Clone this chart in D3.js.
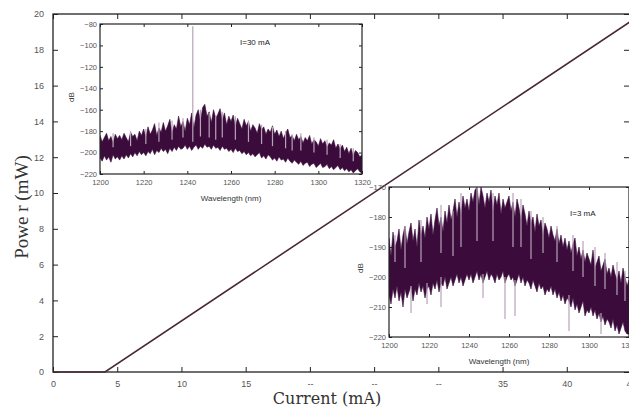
<!DOCTYPE html>
<html>
<head>
<meta charset="utf-8">
<script src="https://cdn.jsdelivr.net/npm/d3@7"></script>
<style>
  body { margin: 0; background: #fff; }
  svg { display: block; font-family: Arial, "Liberation Sans", sans-serif; }
</style>
</head>
<body>
<div id="chart"></div>
<script>
// main L-I curve
const current = [0, 4.05, 44.9]
const power = [0, 0, 19.55]
const xTickVals = [0, 5, 10, 15, 20, 25, 30, 35, 40, 45]
const xTickText = ["0", "5", "10", "15", "--", "--", "--", "35", "40", "45"]
const yTickVals = [0, 2, 4, 6, 8, 10, 12, 14, 16, 18, 20]

// spectrum insets, one sample per nm from 1200 to 1320
const wl0 = 1200
const hi30 = [
  -184,-190,-186,-182,-189,-185,-191,-183,-187,-184,
  -188,-182,-186,-190,-181,-185,-183,-189,-180,-184,
  -178,-186,-176,-183,-179,-173,-184,-177,-181,-172,
  -180,-175,-169,-182,-174,-178,-166,-176,-171,-180,
  -168,-174,-163,-177,-165,-160,-171,-158,-155,-166,
  -162,-172,-160,-168,-164,-159,-170,-163,-174,-166,
  -171,-165,-176,-168,-173,-178,-169,-175,-171,-180,
  -174,-177,-182,-173,-179,-176,-183,-178,-181,-175,
  -183,-179,-185,-180,-187,-182,-178,-186,-184,-189,
  -183,-188,-185,-191,-186,-189,-184,-192,-188,-190,
  -194,-187,-192,-189,-195,-191,-193,-188,-196,-192,
  -197,-193,-199,-195,-201,-196,-203,-198,-200,-204,
  -202]
const lo30 = [
  -205,-208,-203,-207,-204,-209,-202,-206,-204,-207,
  -203,-206,-202,-205,-201,-204,-200,-203,-199,-202,
  -200,-203,-199,-201,-197,-202,-198,-200,-196,-199,
  -197,-201,-196,-199,-195,-198,-194,-197,-196,-193,
  -197,-194,-198,-195,-193,-197,-194,-196,-192,-195,
  -194,-197,-193,-196,-195,-198,-194,-197,-196,-199,
  -197,-200,-196,-199,-198,-201,-199,-202,-200,-203,
  -201,-204,-202,-200,-205,-203,-206,-202,-204,-207,
  -205,-208,-204,-207,-206,-209,-205,-208,-210,-207,
  -209,-211,-208,-212,-210,-209,-213,-211,-210,-214,
  -212,-210,-214,-213,-211,-215,-213,-216,-214,-212,
  -216,-214,-217,-215,-218,-216,-219,-217,-215,-218,
  -219]
// grey spikes: [wavelength, from, to]
const spikes30 = [
  [1242.5, -190, -82], [1206, -195, -182], [1214, -194, -180], [1227, -190, -172],
  [1233, -188, -170], [1238, -186, -168], [1246, -185, -160], [1250, -186, -163],
  [1256, -186, -162], [1262, -188, -166], [1268, -190, -170], [1274, -192, -174],
  [1279, -194, -176], [1285, -196, -180], [1292, -198, -182], [1298, -200, -186],
  [1304, -202, -188], [1310, -205, -192], [1316, -208, -196], [1221, -192, -178],
  [1253, -188, -166], [1288, -198, -183]
]

const hi3 = [
  -187,-193,-185,-190,-188,-184,-191,-186,-183,-189,
  -185,-182,-188,-184,-190,-181,-186,-183,-187,-180,
  -184,-179,-186,-181,-177,-183,-180,-185,-178,-182,
  -176,-181,-178,-174,-180,-175,-179,-173,-177,-174,
  -178,-172,-175,-171,-170,-176,-170,-173,-177,-172,
  -175,-171,-178,-173,-176,-172,-179,-174,-177,-175,
  -173,-178,-175,-180,-174,-177,-181,-176,-179,-183,
  -178,-182,-180,-185,-179,-183,-181,-186,-182,-184,
  -187,-183,-186,-188,-184,-189,-186,-190,-187,-191,
  -188,-192,-189,-187,-193,-190,-194,-191,-195,-192,
  -194,-196,-191,-197,-195,-193,-198,-196,-194,-199,
  -197,-200,-196,-199,-201,-198,-202,-197,-200,-203,
  -201]
const lo3 = [
  -206,-209,-204,-207,-203,-208,-205,-210,-204,-207,
  -205,-203,-208,-204,-206,-202,-205,-203,-207,-204,
  -203,-206,-202,-204,-201,-205,-202,-203,-200,-204,
  -202,-200,-203,-201,-199,-202,-200,-203,-201,-199,
  -201,-199,-202,-200,-198,-201,-199,-202,-200,-198,
  -201,-199,-200,-202,-199,-201,-200,-198,-202,-200,
  -199,-201,-200,-203,-201,-199,-202,-200,-203,-201,
  -202,-204,-201,-203,-205,-202,-204,-203,-206,-204,
  -205,-203,-206,-204,-207,-205,-208,-206,-209,-207,
  -208,-210,-207,-211,-209,-212,-210,-208,-213,-211,
  -212,-210,-213,-211,-214,-212,-215,-213,-216,-214,
  -215,-217,-214,-218,-216,-219,-217,-215,-218,-219,
  -219]
const spikes3 = [
  [1203, -195, -186], [1208, -197, -183], [1216, -195, -181], [1226, -192, -176],
  [1236, -190, -172], [1244, -188, -170], [1252, -188, -172], [1262, -190, -172],
  [1266, -190, -174], [1277, -192, -180], [1284, -195, -183], [1292, -198, -186],
  [1297, -200, -188], [1303, -203, -190], [1308, -204, -192], [1314, -206, -195],
  [1258, -200, -214], [1263, -201, -213], [1290, -206, -218], [1226, -200, -210],
  [1211, -203, -212], [1306, -212, -219], [1219, -202, -209], [1247, -199, -207],
  [1232, -193, -178], [1271, -194, -178], [1318, -208, -198]
]
const wlTicks = [1200, 1220, 1240, 1260, 1280, 1300, 1320]
const dbTicks30 = [-80, -100, -120, -140, -160, -180, -200, -220]
const dbTicks3 = [-170, -180, -190, -200, -210, -220]

const width = 629
const height = 408
const tickCol = "#555"

const svg = d3.select("#chart").append("svg")
    .attr("width", width)
    .attr("height", height)

// main plot
const x = d3.scaleLinear().domain([0, 45]).range([53, 631])
const y = d3.scaleLinear().domain([0, 20]).range([372, 14])

function styleAxis(g, fs) {
    g.select(".domain").remove()
    g.selectAll(".tick line").attr("stroke", "#222")
    g.selectAll(".tick text").attr("fill", tickCol).style("font-size", fs + "px")
}

svg.append("g")
    .attr("transform", "translate(0,372)")
    .call(d3.axisBottom(x).tickValues(xTickVals).tickFormat((d, i) => xTickText[i]).tickSizeInner(-5).tickPadding(9))
    .call(g => styleAxis(g, 9))
svg.append("g")
    .attr("transform", "translate(0,14)")
    .call(d3.axisTop(x).tickValues(xTickVals).tickFormat("").tickSizeInner(-5))
    .call(g => styleAxis(g, 9))
svg.append("g")
    .attr("transform", "translate(53,0)")
    .call(d3.axisLeft(y).tickValues(yTickVals).tickSizeInner(-5).tickPadding(9))
    .call(g => styleAxis(g, 9))
svg.append("g")
    .attr("transform", "translate(629,0)")
    .call(d3.axisRight(y).tickValues(yTickVals).tickFormat("").tickSizeInner(-5))
    .call(g => styleAxis(g, 9))

svg.append("rect")
    .attr("x", 53).attr("y", 14)
    .attr("width", 631 - 53).attr("height", 372 - 14)
    .attr("fill", "none").attr("stroke", "#222").attr("stroke-width", 1.3)

svg.append("path")
    .datum(d3.zip(current, power))
    .attr("fill", "none")
    .attr("stroke", "#4a2838")
    .attr("stroke-width", 1.6)
    .attr("d", d3.line().x(d => x(d[0])).y(d => y(d[1])))

svg.append("text")
    .attr("x", 327).attr("y", 404)
    .attr("text-anchor", "middle")
    .style("font-family", "'DejaVu Serif', 'Liberation Serif', serif")
    .style("font-size", "16px")
    .attr("fill", "#333")
    .text("Current (mA)")

svg.append("text")
    .attr("transform", "translate(28,207) rotate(-90)")
    .attr("text-anchor", "middle")
    .style("font-family", "'Liberation Serif', serif")
    .style("font-size", "19px")
    .attr("fill", "#333")
    .text("Powe r (mW)")

// spectrum inset
function inset(opts) {
    const ix = d3.scaleLinear().domain([1200, 1320]).range([opts.x0, opts.x1])
    const iy = d3.scaleLinear().domain(opts.ydom).range([opts.y1, opts.y0])
    const g = svg.append("g")

    g.append("rect")
        .attr("x", opts.x0).attr("y", opts.y0)
        .attr("width", opts.x1 - opts.x0).attr("height", opts.y1 - opts.y0)
        .attr("fill", "#fff")

    const clipId = "clip" + opts.id
    g.append("clipPath").attr("id", clipId)
        .append("rect")
        .attr("x", opts.x0).attr("y", opts.y0)
        .attr("width", opts.x1 - opts.x0).attr("height", opts.y1 - opts.y0)

    const plot = g.append("g").attr("clip-path", "url(#" + clipId + ")")

    const pts = opts.hi.map((h, i) => ({ wl: wl0 + i, hi: h, lo: opts.lo[i] }))

    plot.append("path")
        .datum(pts)
        .attr("fill", "#3b0c3b")
        .attr("stroke", "#3b0c3b")
        .attr("stroke-width", 0.6)
        .attr("d", d3.area().x(d => ix(d.wl)).y0(d => iy(d.lo)).y1(d => iy(d.hi)))

    plot.selectAll(".spk")
        .data(opts.spikes)
        .join("line")
        .attr("x1", d => ix(d[0])).attr("x2", d => ix(d[0]))
        .attr("y1", d => iy(d[1])).attr("y2", d => iy(d[2]))
        .attr("stroke", "#b7a3b7")
        .attr("stroke-width", 1.2)

    const fs = 7.5
    g.append("g")
        .attr("transform", "translate(0," + opts.y1 + ")")
        .call(d3.axisBottom(ix).tickValues(wlTicks).tickFormat(d3.format("d")).tickSizeInner(-3).tickPadding(6))
        .call(a => styleAxis(a, fs))
    g.append("g")
        .attr("transform", "translate(0," + opts.y0 + ")")
        .call(d3.axisTop(ix).tickValues(wlTicks).tickFormat("").tickSizeInner(-3))
        .call(a => styleAxis(a, fs))
    g.append("g")
        .attr("transform", "translate(" + opts.x0 + ",0)")
        .call(d3.axisLeft(iy).tickValues(opts.yticks).tickSizeInner(-3).tickPadding(3))
        .call(a => styleAxis(a, fs))
    g.append("g")
        .attr("transform", "translate(" + opts.x1 + ",0)")
        .call(d3.axisRight(iy).tickValues(opts.yticks).tickFormat("").tickSizeInner(-3))
        .call(a => styleAxis(a, fs))

    g.append("rect")
        .attr("x", opts.x0).attr("y", opts.y0)
        .attr("width", opts.x1 - opts.x0).attr("height", opts.y1 - opts.y0)
        .attr("fill", "none").attr("stroke", "#222").attr("stroke-width", 1.2)

    g.append("text")
        .attr("x", (opts.x0 + opts.x1) / 2 + opts.xlabDx).attr("y", opts.y1 + 27)
        .attr("text-anchor", "middle")
        .style("font-size", "8px").attr("fill", "#333")
        .text("Wavelength  (nm)")
    g.append("text")
        .attr("transform", "translate(" + (opts.x0 - 26) + "," + opts.ylabY + ") rotate(-90)")
        .attr("text-anchor", "middle")
        .style("font-size", "8px").attr("fill", "#333")
        .text("dB")
    g.append("text")
        .attr("x", opts.labX).attr("y", opts.labY)
        .style("font-size", "8px").attr("fill", "#222")
        .text(opts.label)
}

inset({ id: 1, x0: 100, x1: 362, y0: 24, y1: 174, ydom: [-220, -80],
        hi: hi30, lo: lo30, spikes: spikes30, yticks: dbTicks30,
        label: "I=30 mA", labX: 240, labY: 45, ylabY: 97, xlabDx: 0 })
inset({ id: 2, x0: 389, x1: 629, y0: 187, y1: 337, ydom: [-220, -170],
        hi: hi3, lo: lo3, spikes: spikes3, yticks: dbTicks3,
        label: "I=3 mA", labX: 570, labY: 216, ylabY: 268, xlabDx: -10 })
</script>
</body>
</html>
